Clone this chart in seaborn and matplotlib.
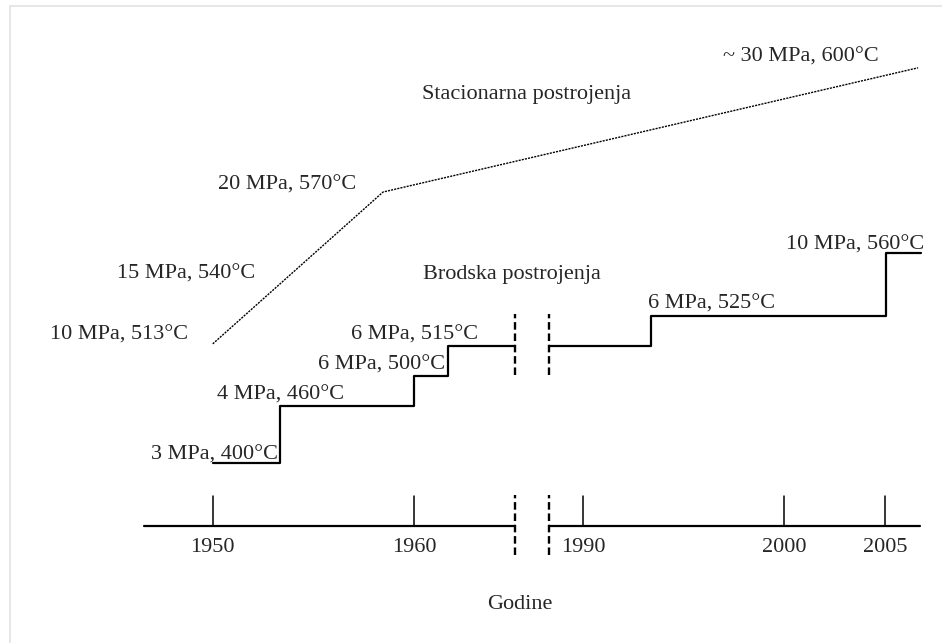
import seaborn as sns
import pandas as pd
import numpy as np
from matplotlib import pyplot as plt
from matplotlib.lines import Line2D

# Brodska postrojenja (marine plants), real years and step level
marine_left_years = [1950, 1953.35, 1960.0, 1961.7, 1965.0]
marine_left_levels = [2.1, 4.0, 5.0, 6.0, 6.0]
marine_right_years = [1988.3, 1993.35, 2005.05, 2006.8]
marine_right_levels = [6.0, 7.0, 9.1, 9.1]

# Stacionarna postrojenja (stationary plants)
station_years = [1950, 1958.46, 2006.64]
station_levels = [6.06, 11.12, 15.26]

tick_years = [1950, 1960, 1990, 2000, 2005]
break_years = [1965.0, 1988.3]
axis_start, axis_end = 1946.6, 2006.74

GAP = 21.6  # years cut out of the time axis


def collapse(years):
    years = np.asarray(years, dtype=float)
    return np.where(years > 1975, years - GAP, years)


# labels placed in collapsed axis units
labels = [
    ('~ 30 MPa, 600°C', 1979.20, 15.62),
    ('Stacionarna postrojenja', 1965.61, 14.38),
    ('20 MPa, 570°C', 1953.67, 11.34),
    ('15 MPa, 540°C', 1948.67, 8.38),
    ('10 MPa, 513°C', 1945.35, 6.34),
    ('Brodska postrojenja', 1964.84, 8.38),
    ('6 MPa, 515°C', 1960.05, 6.34),
    ('6 MPa, 500°C', 1958.39, 5.34),
    ('4 MPa, 460°C', 1953.37, 4.34),
    ('3 MPa, 400°C', 1950.09, 2.34),
    ('6 MPa, 525°C', 1974.78, 7.38),
    ('10 MPa, 560°C', 1981.93, 9.34),
]

sns.set_theme(style='white')
plt.rcParams['font.family'] = ['Liberation Serif', 'DejaVu Serif']
FS = 16

fig = plt.figure(figsize=(9.42, 6.43), dpi=100)
ax = fig.add_axes([0, 0, 1, 1])

# stationary plants - fine dotted line
station = pd.DataFrame({'x': collapse(station_years), 'y': station_levels})
sns.lineplot(data=station, x='x', y='y', ax=ax, color='black', linewidth=1.0,
             linestyle=(0, (1.5, 0.8)), estimator=None, sort=False)

# marine plants - steps
for yrs, lv in [(marine_left_years, marine_left_levels),
                (marine_right_years, marine_right_levels)]:
    seg = pd.DataFrame({'x': collapse(yrs), 'y': lv})
    sns.lineplot(data=seg, x='x', y='y', ax=ax, color='black', linewidth=1.6,
                 drawstyle='steps-post', estimator=None, sort=False)

# time axis with the break
ax.plot(collapse([axis_start, break_years[0]]), [0, 0], color='black', lw=1.6)
ax.plot(collapse([break_years[1], axis_end]), [0, 0], color='black', lw=1.6)
for yr in tick_years:
    cx = collapse([yr])[0]
    ax.plot([cx, cx], [0, 1.0], color='black', lw=1.1)
    ax.text(cx, -0.72, str(yr), ha='center', va='center', fontsize=FS)

for yr in break_years:
    cx = collapse([yr])[0]
    ax.plot([cx, cx], [-0.98, 1.02], color='black', lw=1.7, linestyle=(0, (3.2, 1.6)))
    ax.plot([cx, cx], [5.02, 7.06], color='black', lw=1.7, linestyle=(0, (3.2, 1.6)))

for txt, x, y in labels:
    ax.text(x, y, txt, ha='center', va='center', fontsize=FS)

ax.text(1965.27, -2.64, 'Godine', ha='center', va='center', fontsize=FS)

ax.set_xlim(1939.43, 1986.23)
ax.set_ylim(-3.91, 17.52)
ax.axis('off')

# thin light frame at top and left
fig.add_artist(Line2D([10 / 942, 1], [1 - 6 / 643, 1 - 6 / 643], color='#e3e3e3', lw=1.2))
fig.add_artist(Line2D([10 / 942, 10 / 942], [0, 1 - 6 / 643], color='#e3e3e3', lw=1.2))

fig.savefig('out.png', dpi=100)
